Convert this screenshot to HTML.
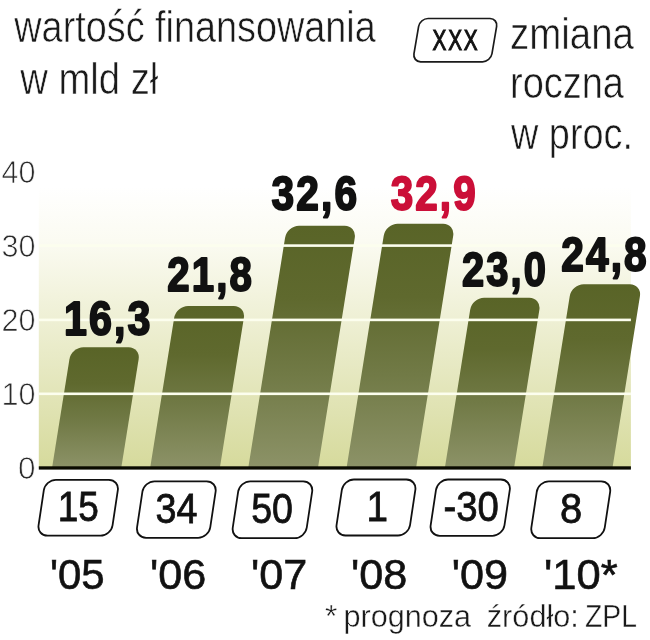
<!DOCTYPE html>
<html lang="pl"><head><meta charset="utf-8"><title>wartość finansowania</title>
<style>html,body{margin:0;padding:0;background:#fff}svg{display:block;will-change:transform}text{font-family:"Liberation Sans",sans-serif;fill:#111}.lt{fill:#1a1a1a;stroke:#fff;stroke-width:.6px;paint-order:fill stroke}.ax{fill:#2b2b2b;stroke:#fff;stroke-width:.75px;paint-order:fill stroke}.bd{font-weight:bold;fill:#111;stroke:#111;stroke-width:2px;stroke-linejoin:round;letter-spacing:2.5px}.rd{fill:#cb0f38;stroke:#cb0f38}.bx{fill:#fff;stroke:#111;stroke-width:1.8px}.yr{stroke:#111;stroke-width:.6px}.md{stroke:#111;stroke-width:.5px}.bn{stroke-width:.8px}.ft{fill:#1a1a1a;stroke:#fff;stroke-width:.4px;paint-order:fill stroke}</style></head><body>
<svg width="650" height="640" viewBox="0 0 650 640">
<defs><linearGradient id="bg" gradientUnits="userSpaceOnUse" x1="0" y1="165" x2="0" y2="468"><stop offset="0" stop-color="#ffffff"/><stop offset="0.07" stop-color="#ffffff"/><stop offset="0.25" stop-color="#fbfbf2"/><stop offset="1" stop-color="#d6da9c"/></linearGradient><linearGradient id="bar" x1="0" y1="0" x2="0" y2="1"><stop offset="0" stop-color="#596427"/><stop offset="0.3" stop-color="#5f692e"/><stop offset="0.62" stop-color="#717a46"/><stop offset="1" stop-color="#8c9267"/></linearGradient></defs>
<rect width="650" height="640" fill="#fff"/>
<rect x="38.8" y="165" width="592.1" height="303" fill="url(#bg)"/>
<g fill="url(#bar)" transform="matrix(1 0 -0.16 1 74.720 0)">
<path d="M52.20,467.00V359.30A12,12 0 0 1 64.20,347.30H109.40A12,12 0 0 1 121.40,359.30V467.00Z"/>
<path d="M150.30,467.00V318.00A12,12 0 0 1 162.30,306.00H208.00A12,12 0 0 1 220.00,318.00V467.00Z"/>
<path d="M248.40,467.00V237.80A12,12 0 0 1 260.40,225.80H306.10A12,12 0 0 1 318.10,237.80V467.00Z"/>
<path d="M346.70,467.00V235.70A12,12 0 0 1 358.70,223.70H404.20A12,12 0 0 1 416.20,235.70V467.00Z"/>
<path d="M445.00,467.00V309.70A12,12 0 0 1 457.00,297.70H502.20A12,12 0 0 1 514.20,309.70V467.00Z"/>
<path d="M542.40,467.00V296.20A12,12 0 0 1 554.40,284.20H600.60A12,12 0 0 1 612.60,296.20V467.00Z"/>
</g>
<rect x="38.8" y="392.50" width="592.1" height="2.6" fill="#fcfeee"/>
<rect x="38.8" y="318.60" width="592.1" height="2.6" fill="#fcfeee"/>
<rect x="38.8" y="244.30" width="592.1" height="2.6" fill="#fcfeee"/>
<rect x="38.8" y="466.3" width="592.1" height="3.3" fill="#0a0a00"/>
<text class="ax" x="18.1" y="479.1" font-size="32" textLength="17.5" lengthAdjust="spacingAndGlyphs">0</text>
<text class="ax" x="1.6" y="405.1" font-size="32" textLength="34" lengthAdjust="spacingAndGlyphs">10</text>
<text class="ax" x="1.6" y="331.1" font-size="32" textLength="34" lengthAdjust="spacingAndGlyphs">20</text>
<text class="ax" x="1.6" y="257.1" font-size="32" textLength="34" lengthAdjust="spacingAndGlyphs">30</text>
<text class="ax" x="1.6" y="183.1" font-size="32" textLength="34" lengthAdjust="spacingAndGlyphs">40</text>
<text class="lt" x="14.3" y="42.3" font-size="44.5" textLength="361.5" lengthAdjust="spacingAndGlyphs">wartość finansowania</text>
<text class="lt" x="20.3" y="93.9" font-size="44.5" textLength="138" lengthAdjust="spacingAndGlyphs">w mld zł</text>
<text class="lt" x="510" y="48.8" font-size="44.5" textLength="124" lengthAdjust="spacingAndGlyphs">zmiana</text>
<text class="lt" x="510" y="98.3" font-size="44.5" textLength="114" lengthAdjust="spacingAndGlyphs">roczna</text>
<text class="lt" x="511" y="149.3" font-size="44.5" textLength="122" lengthAdjust="spacingAndGlyphs">w proc.</text>
<rect x="412.60" y="18.50" width="78.00" height="43.30" rx="8" ry="8" transform="matrix(1 0 -0.17 1 10.506 0)" fill="#fff" stroke="#1a1a1a" stroke-width="1.7"/>
<text class="md" x="432.6" y="50.4" font-size="29.5" textLength="46.8" lengthAdjust="spacingAndGlyphs" style="stroke-width:1.1px;letter-spacing:2.5px">XXX</text>
<text class="bd" x="63.9" y="334.7" font-size="48.4" textLength="88.6" lengthAdjust="spacingAndGlyphs">16,3</text>
<text class="bd" x="167.3" y="291.3" font-size="48.4" textLength="86.6" lengthAdjust="spacingAndGlyphs">21,8</text>
<text class="bd" x="271.6" y="210.3" font-size="48.4" textLength="87.5" lengthAdjust="spacingAndGlyphs">32,6</text>
<text class="bd rd" x="390.8" y="210.0" font-size="48.4" textLength="86.9" lengthAdjust="spacingAndGlyphs">32,9</text>
<text class="bd" x="462.1" y="286.0" font-size="48.4" textLength="85.8" lengthAdjust="spacingAndGlyphs">23,0</text>
<text class="bd" x="561.3" y="271.0" font-size="48.4" textLength="87.4" lengthAdjust="spacingAndGlyphs">24,8</text>
<rect x="37.00" y="479.80" width="74.00" height="55.90" rx="10.5" ry="10.5" transform="matrix(1 0 -0.15 1 80.355 0)" class="bx"/>
<text class="md bn" x="57.7" y="520.8" font-size="42.2" textLength="41.1" lengthAdjust="spacingAndGlyphs">15</text>
<rect x="135.50" y="481.30" width="73.20" height="56.50" rx="10.5" ry="10.5" transform="matrix(1 0 -0.15 1 80.670 0)" class="bx"/>
<text class="md bn" x="155.5" y="523.3" font-size="42.2" textLength="41.9" lengthAdjust="spacingAndGlyphs">34</text>
<rect x="231.20" y="481.30" width="74.00" height="56.80" rx="10.5" ry="10.5" transform="matrix(1 0 -0.15 1 80.715 0)" class="bx"/>
<text class="md bn" x="251.2" y="523.3" font-size="42.2" textLength="41.8" lengthAdjust="spacingAndGlyphs">50</text>
<rect x="335.00" y="479.50" width="73.50" height="56.00" rx="10.5" ry="10.5" transform="matrix(1 0 -0.15 1 80.325 0)" class="bx"/>
<text class="md bn" x="366.5" y="520.8" font-size="42.2" textLength="21.5" lengthAdjust="spacingAndGlyphs">1</text>
<rect x="429.10" y="479.50" width="73.80" height="56.30" rx="10.5" ry="10.5" transform="matrix(1 0 -0.15 1 80.370 0)" class="bx"/>
<text class="md bn" x="443.5" y="521.3" font-size="42.2" textLength="55.4" lengthAdjust="spacingAndGlyphs">-30</text>
<rect x="529.80" y="481.40" width="73.40" height="56.70" rx="10.5" ry="10.5" transform="matrix(1 0 -0.15 1 80.715 0)" class="bx"/>
<text class="md bn" x="560.0" y="523.3" font-size="42.2" textLength="22.2" lengthAdjust="spacingAndGlyphs">8</text>
<text class="yr" x="49.9" y="588.8" font-size="41.8" textLength="54.7" lengthAdjust="spacingAndGlyphs">'05</text>
<text class="yr" x="149.9" y="588.8" font-size="41.8" textLength="56.3" lengthAdjust="spacingAndGlyphs">'06</text>
<text class="yr" x="251.1" y="588.8" font-size="41.8" textLength="56.3" lengthAdjust="spacingAndGlyphs">'07</text>
<text class="yr" x="351.1" y="588.8" font-size="41.8" textLength="56.3" lengthAdjust="spacingAndGlyphs">'08</text>
<text class="yr" x="451.7" y="588.8" font-size="41.8" textLength="56.3" lengthAdjust="spacingAndGlyphs">'09</text>
<text class="yr" x="544.0" y="588.8" font-size="41.8" textLength="73.7" lengthAdjust="spacingAndGlyphs">'10*</text>
<text class="ft" x="325" y="627" font-size="31.5">*</text>
<text class="ft" x="343.6" y="627" font-size="31.5" textLength="127.5" lengthAdjust="spacingAndGlyphs">prognoza</text>
<text class="ft" x="486.8" y="627" font-size="31.5" textLength="92" lengthAdjust="spacingAndGlyphs">źródło:</text>
<text class="ft" x="585" y="627" font-size="31.5" textLength="52" lengthAdjust="spacingAndGlyphs">ZPL</text>
</svg></body></html>
